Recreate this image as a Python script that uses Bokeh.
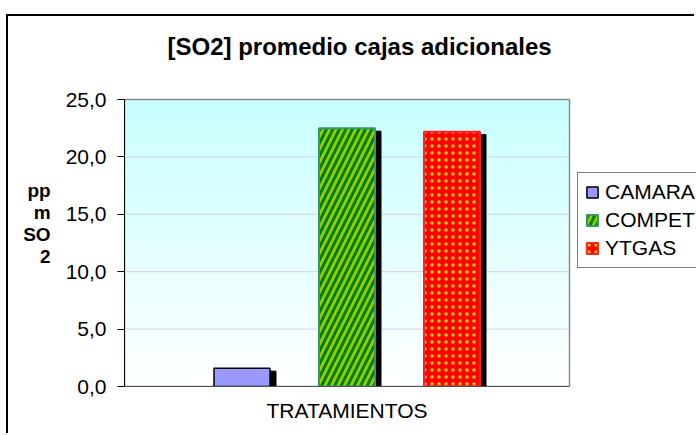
import numpy as np
from bokeh.plotting import figure
from bokeh.models import (Range1d, FixedTicker, Legend, LegendItem, Label,
                          ColumnDataSource)
from bokeh.transform import dodge
from bokeh.embed import file_html
from bokeh.resources import INLINE

# ---------------- data ----------------
title_text = "[SO2] promedio cajas adicionales"
categories = ["TRATAMIENTOS"]
series = ["CAMARA", "COMPET", "YTGAS"]
values = [1.6, 22.5, 22.2]
y_ticks = [0, 5, 10, 15, 20, 25]
y_tick_labels = ["0,0", "5,0", "10,0", "15,0", "20,0", "25,0"]
y_label_lines = ["pp", "m", "SO", "2"]

# ---------------- geometry / styles ----------------
FONT = "Liberation Sans"
CANVAS_W, CANVAS_H = 688, 419
LEFT, BOTTOM = 116, 49            # space for the axes
PLOT_W, PLOT_H = 445, 287         # size of the category (plot) area in px
FRAME_W = CANVAS_W - LEFT         # frame also hosts the title and legend
FRAME_H = CANVAS_H - BOTTOM

fills = ["#9999FF", "#99CC00", "#FF0000"]
outlines = ["#000000", "#339966", "#FF2020"]
hatches = [None, "/", "."]
hatch_colors = [None, "#008000", "#FFCC00"]
hatch_scales = [12, 13, 7]
hatch_weights = [1, 3, 5]
offset_px = [-105, 0, 105]
bar_px = 56

n_cat = len(categories)
y_lo, y_hi = y_ticks[0], y_ticks[-1]
x_hi = n_cat * FRAME_W / PLOT_W
y_top = y_lo + (y_hi - y_lo) * FRAME_H / PLOT_H

p = figure(width=CANVAS_W, height=CANVAS_H,
           x_range=Range1d(0, x_hi), y_range=Range1d(y_lo, y_top),
           output_backend="svg", toolbar_location=None,
           min_border_left=LEFT, min_border_right=0,
           min_border_top=0, min_border_bottom=BOTTOM)
p.margin = (14, 0, 0, 6)
p.styles = {"border-top": "2px solid black", "border-left": "2px solid black"}

# plot-area background gradient (light cyan at top -> white at bottom)
N = 128
img = np.empty((N, 1), dtype=np.uint32)
view = img.view(dtype=np.uint8).reshape((N, 1, 4))
for i in range(N):
    t = i / (N - 1)
    view[i, 0, 0] = int(round(255 - 55 * t))
    view[i, 0, 1] = 255
    view[i, 0, 2] = 255
    view[i, 0, 3] = 255
p.image_rgba(image=[img], x=0, y=y_lo, dw=n_cat, dh=y_hi - y_lo, level="image")

# horizontal grid lines and plot-area outline
inner = y_ticks[1:-1]
p.segment(x0=[0] * len(inner), x1=[n_cat] * len(inner), y0=inner, y1=inner,
          line_color="#D2D2F6", line_width=1)
p.quad(left=[0], right=[n_cat], bottom=[y_lo], top=[y_hi],
       fill_color=None, line_color="#8C8C8C", line_width=1.5)

x_per_px = 1.0 / PLOT_W
y_per_px = (y_hi - y_lo) / PLOT_H
cat_x = [k + 0.5 for k in range(n_cat)]

items = []
for i, name in enumerate(series):
    src = ColumnDataSource(dict(x=cat_x, top=[values[i]],
                                shadow_top=[values[i] - 3 * y_per_px]))
    p.vbar(x=dodge("x", (offset_px[i] + 6) * x_per_px),
           top="shadow_top", bottom=y_lo, width=bar_px * x_per_px,
           source=src, fill_color="black", line_color="black")
    kw = {}
    if hatches[i]:
        kw = dict(hatch_pattern=hatches[i], hatch_color=hatch_colors[i],
                  hatch_scale=hatch_scales[i], hatch_weight=hatch_weights[i])
    r = p.vbar(x=dodge("x", offset_px[i] * x_per_px),
               top="top", bottom=y_lo, width=bar_px * x_per_px, source=src,
               fill_color=fills[i], line_color=outlines[i],
               line_width=1.5 if i == 0 else 2, **kw)
    items.append(LegendItem(label=name, renderers=[r]))

legend = Legend(items=items, location=(453, 118),
                label_text_font=FONT, label_text_font_size="21px",
                label_text_color="black", label_height=24,
                glyph_height=14, glyph_width=14, spacing=4, padding=7,
                margin=0, label_standoff=6,
                border_line_color="black", border_line_width=1,
                background_fill_color="white", background_fill_alpha=1)
p.add_layout(legend, "center")

# title (inside the frame, above the plot area)
p.add_layout(Label(x=43, y=FRAME_H - 30, x_units="screen", y_units="screen",
                   text=title_text, text_font=FONT, text_font_size="24px",
                   text_font_style="bold", text_color="black",
                   text_align="left", text_baseline="middle"))

# y axis
p.yaxis.ticker = FixedTicker(ticks=y_ticks)
p.yaxis.bounds = (y_lo, y_hi)
p.yaxis.major_label_overrides = {t: l for t, l in zip(y_ticks, y_tick_labels)}
p.yaxis.major_label_text_font = FONT
p.yaxis.major_label_text_font_size = "21px"
p.yaxis.major_label_text_color = "black"
p.yaxis.major_label_standoff = 11
p.yaxis.axis_line_color = "black"
p.yaxis.major_tick_line_color = "black"
p.yaxis.major_tick_out = 7
p.yaxis.major_tick_in = 0
p.yaxis.minor_tick_line_color = None

ax = p.yaxis[0]
if "axis_label_orientation" in ax.properties():
    ax.axis_label = "\n".join([" ", " "] + y_label_lines)
    ax.axis_label_orientation = "horizontal"
    ax.axis_label_text_font = FONT
    ax.axis_label_text_font_size = "19px"
    ax.axis_label_text_font_style = "bold"
    ax.axis_label_text_color = "black"
    ax.axis_label_text_align = "left"
    ax.axis_label_text_line_height = 1.05
    ax.axis_label_standoff = 12

# x axis (category label)
p.xaxis.ticker = FixedTicker(ticks=cat_x)
p.xaxis.bounds = (0, n_cat)
p.xaxis.major_label_overrides = {x: c for x, c in zip(cat_x, categories)}
p.xaxis.major_label_text_font = FONT
p.xaxis.major_label_text_font_size = "21px"
p.xaxis.major_label_text_color = "black"
p.xaxis.major_label_standoff = 12
p.xaxis.major_tick_line_color = None
p.xaxis.major_tick_out = 0
p.xaxis.minor_tick_line_color = None
p.xaxis.axis_line_color = "#505050"

p.grid.visible = False
p.outline_line_color = None
p.background_fill_color = "white"
p.border_fill_color = "white"

open("out.html", "w").write(file_html(p, INLINE))
